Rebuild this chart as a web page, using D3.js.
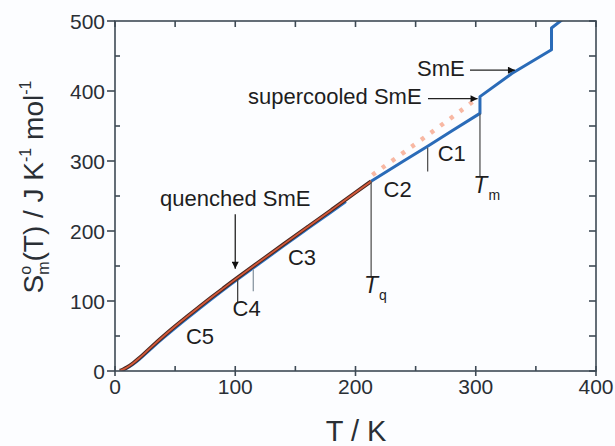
<!DOCTYPE html>
<html><head><meta charset="utf-8">
<script src="https://cdn.jsdelivr.net/npm/d3@7"></script>
<style>body{margin:0;background:#fcfdff} svg{display:block}</style>
</head><body><svg id="c" width="615" height="446"></svg>
<script>
// ---- data ----
const xTicks = [0, 100, 200, 300, 400];
const yTicks = [0, 100, 200, 300, 400, 500];
const xMinor = [50, 150, 250, 350];
const yMinor = [50, 150, 250, 350, 450];
// crystal (C5..C3), heating, low temperature
const crystalLowT = [4, 6, 10, 15, 20, 25, 30, 40, 50, 60, 70, 80, 90, 100, 120, 140, 160, 180, 192];
const crystalLowS = [0, 0.8, 4, 9.5, 16, 24, 32, 47, 61.5, 75.5, 89, 102.5, 115.5, 128.5, 153.5, 178.5, 203, 227.5, 242];
// quenched SmE (glass)
const quenchedT = [4, 6, 10, 15, 20, 25, 30, 40, 50, 60, 70, 80, 90, 100, 120, 140, 160, 180, 200, 213];
const quenchedS = [0.5, 1.5, 5, 11, 18, 26, 34, 49.5, 64, 78, 91.5, 105, 118, 131, 156, 181, 205.5, 230, 255, 271];
// crystal C2, C1 -> Tm -> SmE -> isotropic
const upperT = [213, 240, 260, 280, 303.5, 303.5, 330, 363, 363, 372];
const upperS = [271, 300, 321, 343, 368, 392, 425, 459, 490, 502];
// supercooled SmE (dotted)
const superT = [214, 240, 260, 280, 300];
const superS = [280, 312, 337, 362, 388];

// ---- layout ----
const svg = d3.select('#c');
const L = 115, R = 596, T = 21, B = 371;
const x = d3.scaleLinear().domain([0, 400]).range([L, R]);
const y = d3.scaleLinear().domain([0, 500]).range([B, T]);
const axisCol = '#3e4a55';
const font = 'Liberation Sans, Arial, Helvetica, sans-serif';

svg.append('rect').attr('width', 615).attr('height', 446).attr('fill', '#fcfdff');

const defs = svg.append('defs');
defs.append('clipPath').attr('id', 'clip').append('rect')
  .attr('x', L).attr('y', T).attr('width', R - L).attr('height', B - T);
defs.append('marker').attr('id', 'ah').attr('viewBox', '0 0 10 10')
  .attr('refX', 10).attr('refY', 5).attr('markerWidth', 10).attr('markerHeight', 7)
  .attr('markerUnits', 'userSpaceOnUse').attr('orient', 'auto')
  .append('path').attr('d', 'M0,0 L10,5 L0,10 Z').attr('fill', '#111');

const pts = (a, b) => a.map((v, i) => [v, b[i]]);
const smooth = d3.line().x(d => x(d[0])).y(d => y(d[1])).curve(d3.curveBasis);
const straight = d3.line().x(d => x(d[0])).y(d => y(d[1]));

const g = svg.append('g').attr('clip-path', 'url(#clip)');
// supercooled dotted
g.append('path').attr('d', smooth(pts(superT, superS)))
  .attr('fill', 'none').attr('stroke', '#f6a68c').attr('stroke-width', 4.5)
  .attr('stroke-dasharray', '4,8').attr('opacity', 0.8);
// crystal low blue
g.append('path').attr('d', smooth(pts(crystalLowT, crystalLowS)))
  .attr('fill', 'none').attr('stroke', '#2f74c4').attr('stroke-width', 3);
// upper blue
g.append('path').attr('d', straight(pts(upperT, upperS)))
  .attr('fill', 'none').attr('stroke', '#2a6bb8').attr('stroke-width', 3).attr('stroke-linejoin', 'round');
// quenched red with dark outline
const qd = smooth(pts(quenchedT, quenchedS));
g.append('path').attr('d', qd).attr('fill', 'none').attr('stroke', '#4a2820').attr('stroke-width', 3.8);
g.append('path').attr('d', qd).attr('fill', 'none').attr('stroke', '#d4593a').attr('stroke-width', 1.8);

// ---- annotation lines ----
const ann = svg.append('g').attr('stroke-width', 1.3);
const vline = (t, s1, s2, col) => ann.append('line').attr('x1', x(t)).attr('x2', x(t))
  .attr('y1', y(s1)).attr('y2', y(s2)).attr('stroke', col || '#555');
vline(213, 271, 135);        // Tq
vline(303.5, 368, 278);      // Tm
vline(260, 319, 285);        // C1|C2
vline(102, 130, 98, '#444');  // C4
vline(115, 145, 114, '#8a97a3');

// arrows
const arrow = (x1, y1, x2, y2) => svg.append('line').attr('x1', x1).attr('y1', y1)
  .attr('x2', x2).attr('y2', y2).attr('stroke', '#222').attr('stroke-width', 1.3)
  .attr('marker-end', 'url(#ah)');
arrow(x(100), y(224), x(100), y(146));
arrow(x(260.3), y(389), x(301.5), y(389));
arrow(x(295.2), y(429.7), x(332.6), y(429.7));

// ---- labels ----
const lab = (t, s, txt, anchor) => svg.append('text').attr('x', x(t)).attr('y', y(s))
  .attr('text-anchor', anchor || 'middle').attr('font-family', font).attr('font-size', 22)
  .attr('fill', '#1e1e1e').text(txt);
lab(100, 236, 'quenched SmE');
lab(70.7, 38, 'C5');
lab(109.5, 78, 'C4');
lab(155.5, 152, 'C3');
lab(235, 248, 'C2');
lab(280, 300.7, 'C1');
lab(255, 381, 'supercooled SmE', 'end');
lab(290.8, 422, 'SmE', 'end');

const sub = (t, s, main, subTxt) => {
  const tx = svg.append('text').attr('x', x(t)).attr('y', y(s))
    .attr('font-family', font).attr('fill', '#1e1e1e');
  tx.append('tspan').attr('font-size', 23).attr('font-style', 'italic').text(main);
  tx.append('tspan').attr('font-size', 14).attr('dy', 7).attr('dx', 1).text(subTxt);
};
sub(207, 111, 'T', 'q');
sub(298, 254, 'T', 'm');

// ---- axes ----
const ax = svg.append('g').attr('stroke', axisCol).attr('stroke-width', 1.6).attr('fill', 'none');
ax.append('rect').attr('x', L).attr('y', T).attr('width', R - L).attr('height', B - T);

const tk = (x1, y1, x2, y2) => ax.append('line').attr('x1', x1).attr('y1', y1).attr('x2', x2).attr('y2', y2);
xTicks.forEach(v => { tk(x(v), B - 5, x(v), B + 5); tk(x(v), T, x(v), T + 6); });
xMinor.forEach(v => { tk(x(v), B, x(v), B - 5); tk(x(v), T, x(v), T + 6); });
yTicks.forEach(v => { tk(L - 8, y(v), L, y(v)); tk(R, y(v), R - 7, y(v)); });
yMinor.forEach(v => { tk(L, y(v), L + 5, y(v)); tk(R, y(v), R - 7, y(v)); });

const tl = svg.append('g').attr('font-family', font).attr('font-size', 21).attr('fill', '#2a2f35');
xTicks.forEach(v => tl.append('text').attr('x', x(v)).attr('y', B + 23).attr('text-anchor', 'middle').text(v));
yTicks.forEach(v => tl.append('text').attr('x', L - 10).attr('y', y(v) + 7.5).attr('text-anchor', 'end').text(v));

// axis titles
svg.append('text').attr('x', 356).attr('y', 441).attr('text-anchor', 'middle')
  .attr('font-family', font).attr('font-size', 29).attr('fill', '#2a2f35').text('T / K');

const yt = svg.append('text').attr('transform', 'translate(43,187) rotate(-90)')
  .attr('text-anchor', 'middle').attr('font-family', font).attr('font-size', 28).attr('fill', '#2a2f35');
yt.append('tspan').text('S');
yt.append('tspan').attr('font-size', 16).attr('dy', -12).text('o');
yt.append('tspan').attr('font-size', 16).attr('dx', -9).attr('dy', 18).text('m');
yt.append('tspan').attr('dy', -6).text('(T) / J K');
yt.append('tspan').attr('font-size', 16).attr('dy', -12).text('-1');
yt.append('tspan').attr('dy', 12).text(' mol');
yt.append('tspan').attr('font-size', 16).attr('dy', -12).text('-1');
</script></body></html>
